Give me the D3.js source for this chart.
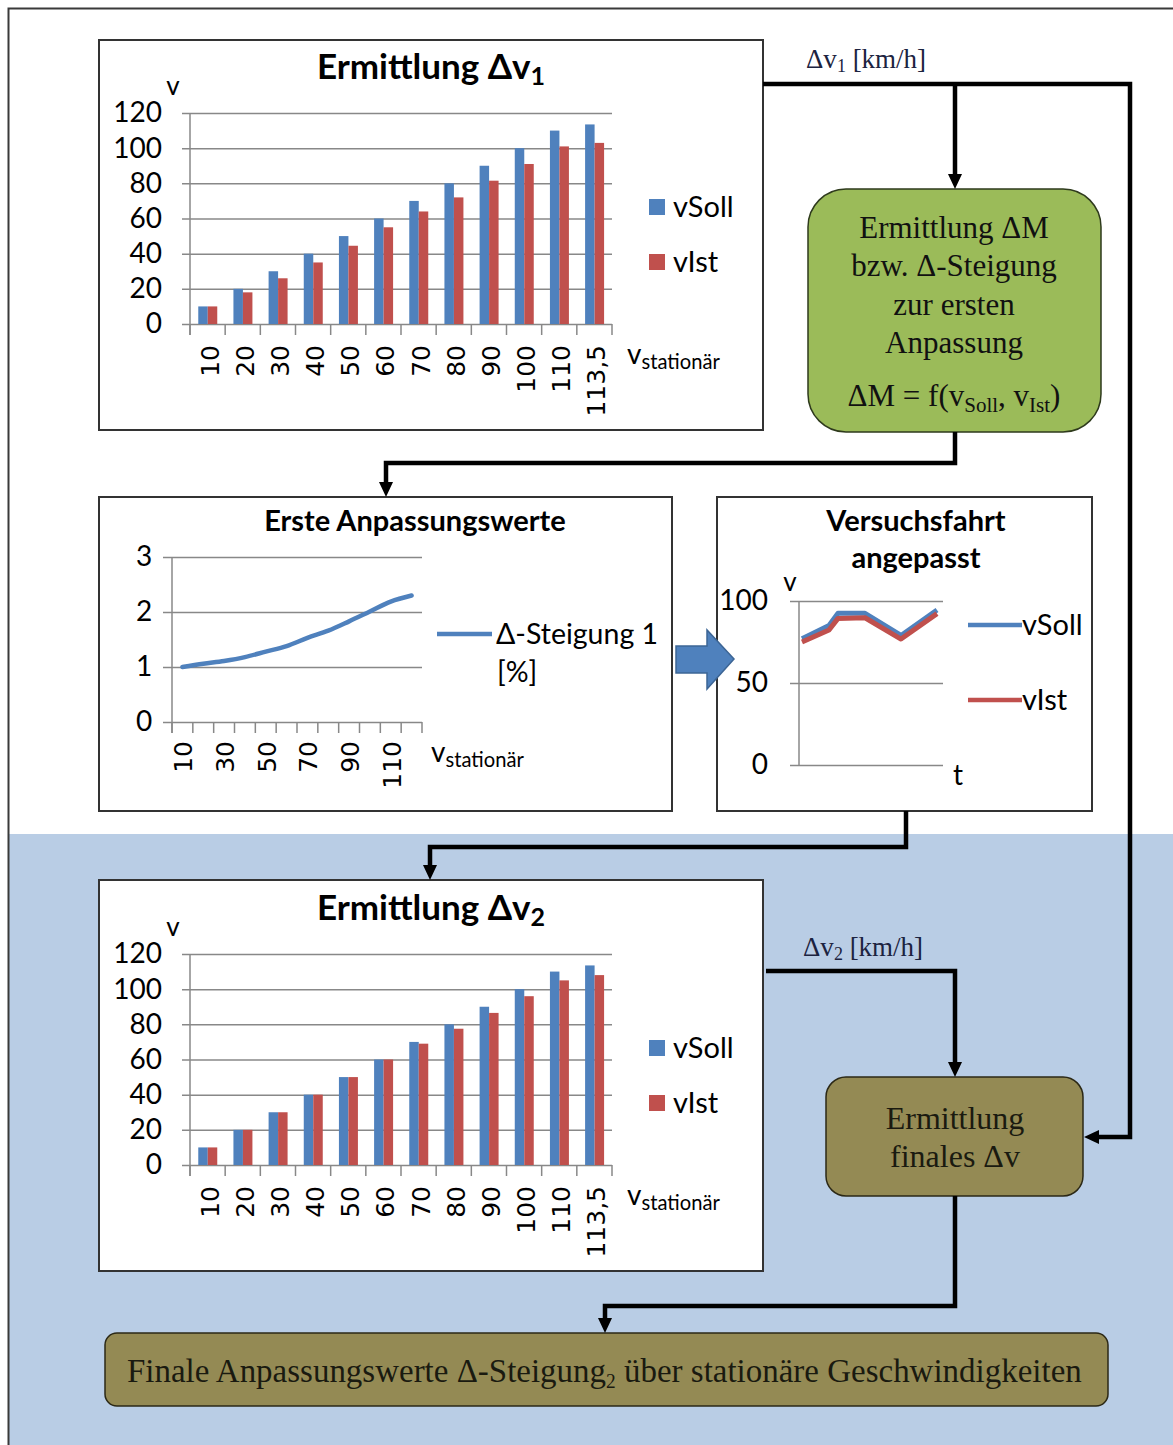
<!DOCTYPE html>
<html><head><meta charset="utf-8">
<script src="https://cdn.jsdelivr.net/npm/d3@7"></script>
<style>body{margin:0;background:#fff}svg{display:block}</style>
</head><body>
<script>
// Stationary speed steps (km/h)
const categories = ["10","20","30","40","50","60","70","80","90","100","110","113,5"];
// First determination: target vs. actual speed
const vSoll1 = [10,20,30,40,50,60,70,80,90,100,110,113.5];
const vIst1  = [10,18,26,35,44.5,55,64,72,81.5,91,101,103];
// Second determination after first adjustment
const vSoll2 = [10,20,30,40,50,60,70,80,90,100,110,113.5];
const vIst2  = [10,20,30,40,50,60,69,77.5,86.5,96,105,108];
const barTicks = [0,20,40,60,80,100,120];
const seriesNames = ["vSoll","vIst"];
// First adjustment values (Δ-Steigung 1 in %)
const steigung1 = [1.0,1.06,1.11,1.18,1.28,1.38,1.53,1.66,1.83,2.01,2.19,2.3];
const steigungTicks = [0,1,2,3];
const steigungTickLabels = ["10","30","50","70","90","110"];
// Adjusted test drive
const runTime = [1,10,13,22,34,46];
const runSoll = [77,85,92.5,92.5,79,94.5];
const runIst  = [75,82.3,89.4,89.8,76.8,92.3];
const runTicks = [0,50,100];

const BLUE = "#4f81bd", RED = "#c0504d", GRID = "#888888";
const SANS = "Lato, 'Open Sans', sans-serif";
const SERIF = "'Liberation Serif', 'DejaVu Serif', serif";
const NUM = "'DejaVu Sans', sans-serif";

const svg = d3.select("body").append("svg").attr("width",1173).attr("height",1445);

// lower shaded area and outer frame
svg.append("rect").attr("x",9).attr("y",834).attr("width",1164).attr("height",611).attr("fill","#b9cde5");
svg.append("path").attr("d","M8.5,1445 V8.5 H1173").attr("fill","none").attr("stroke","#3a3a3a").attr("stroke-width",2);

function box(x,y,w,h){
  svg.append("rect").attr("x",x).attr("y",y).attr("width",w).attr("height",h)
    .attr("fill","#fff").attr("stroke","#333").attr("stroke-width",2);
}

// text with an optional subscript part
function subText(g, x, y, parts, opts){
  const t = g.append("text").attr("x",x).attr("y",y)
    .attr("font-family",opts.family).attr("font-size",opts.size)
    .attr("font-weight",opts.weight||"normal").attr("fill",opts.fill||"#000")
    .attr("text-anchor",opts.anchor||"start");
  parts.forEach(p=>{
    if(typeof p === "string"){ t.append("tspan").text(p); }
    else {
      t.append("tspan").attr("dy",p.dy).attr("font-size",p.size).attr("font-family",p.family||null).text(p.sub);
      if(p.back) t.append("tspan").attr("dy",-p.dy).text(p.back);
    }
  });
  return t;
}

function vStationaer(g,x,y,size){
  subText(g,x,y,["v",{sub:"stationär",dy:5,size:size*0.72}],{family:SANS,size:size});
}

function barChart(dy, subNum, soll, ist){
  const g = svg.append("g").attr("transform",`translate(0,${dy})`);
  const x = d3.scaleBand().domain(categories).range([190,612]);
  const y = d3.scaleLinear().domain([0,120]).range([324,113]);
  const bw = x.bandwidth();
  const x1 = d3.scaleBand().domain(seriesNames).range([bw*0.235,bw*0.775]);

  subText(g,431,79,["Ermittlung Δv",{sub:subNum,dy:6,size:25}],{family:SANS,size:35,weight:"bold",anchor:"middle"});
  g.append("text").attr("x",173).attr("y",95).attr("font-family",SANS).attr("font-size",26).attr("text-anchor","middle").text("v");

  // grid + y ticks
  const yAxis = g.append("g").attr("transform","translate(190,0)")
    .call(d3.axisLeft(y).tickValues(barTicks).tickSize(-422).tickPadding(28).tickFormat(d3.format("d")));
  yAxis.select(".domain").remove();
  yAxis.selectAll(".tick line").attr("x1",-8).attr("stroke",GRID).attr("stroke-width",1.5);
  yAxis.selectAll(".tick text").attr("font-family",SANS).attr("font-size",28).attr("fill","#000");
  g.append("line").attr("x1",190).attr("x2",190).attr("y1",113).attr("y2",335).attr("stroke",GRID).attr("stroke-width",1.5);
  // category separators
  const seps = categories.map(c=>x(c)).concat([612]);
  g.selectAll(".sep").data(seps).join("line").attr("x1",d=>d).attr("x2",d=>d)
    .attr("y1",324).attr("y2",335).attr("stroke",GRID).attr("stroke-width",1.5);

  const rows = categories.map((c,i)=>({c, vSoll:soll[i], vIst:ist[i]}));
  const grp = g.selectAll(".cat").data(rows).join("g").attr("transform",d=>`translate(${x(d.c)},0)`);
  grp.selectAll("rect").data(d=>seriesNames.map(k=>({k,v:d[k]}))).join("rect")
    .attr("x",d=>x1(d.k)).attr("width",x1.bandwidth())
    .attr("y",d=>y(d.v)).attr("height",d=>y(0)-y(d.v))
    .attr("fill",d=>d.k==="vSoll"?BLUE:RED);

  g.selectAll(".xl").data(categories).join("text")
    .attr("transform",c=>`translate(${x(c)+bw/2+2},345) rotate(-90)`)
    .attr("text-anchor","end").attr("dy","0.36em")
    .attr("font-family",NUM).attr("font-size",25).text(c=>c);

  vStationaer(g,627,364,28);

  // legend
  seriesNames.forEach((k,i)=>{
    const ly = 207 + i*55;
    g.append("rect").attr("x",649).attr("y",ly-8).attr("width",16).attr("height",16).attr("fill",k==="vSoll"?BLUE:RED);
    g.append("text").attr("x",673).attr("y",ly+10).attr("font-family",SANS).attr("font-size",29).text(k);
  });
}

// ---- boxes
box(99,40,664,390);
box(99,497,573,314);
box(717,497,375,314);
box(99,880,664,391);

barChart(0,"1",vSoll1,vIst1);
barChart(841,"2",vSoll2,vIst2);

// ---- first adjustment values (line chart)
(function(){
  const g = svg.append("g");
  const cats = categories;
  const x = d3.scaleBand().domain(cats).range([172,422]);
  const y = d3.scaleLinear().domain([0,3]).range([722,557]);
  g.append("text").attr("x",415).attr("y",531).attr("text-anchor","middle")
    .attr("font-family",SANS).attr("font-weight","bold").attr("font-size",29).text("Erste Anpassungswerte");
  const yAxis = g.append("g").attr("transform","translate(172,0)")
    .call(d3.axisLeft(y).tickValues(steigungTicks).tickSize(-250).tickPadding(28).tickFormat(d3.format("d")));
  yAxis.select(".domain").remove();
  yAxis.selectAll(".tick line").attr("x1",-9).attr("stroke",GRID).attr("stroke-width",1.5);
  yAxis.selectAll(".tick text").attr("font-family",SANS).attr("font-size",28).attr("fill","#000").attr("text-anchor","middle");
  g.append("line").attr("x1",172).attr("x2",172).attr("y1",557).attr("y2",733).attr("stroke",GRID).attr("stroke-width",1.5);
  const seps = cats.map(c=>x(c)).concat([422]);
  g.selectAll(".sep").data(seps).join("line").attr("x1",d=>d).attr("x2",d=>d)
    .attr("y1",722).attr("y2",733).attr("stroke",GRID).attr("stroke-width",1.5);
  const line = d3.line().x((d,i)=>x(cats[i])+x.bandwidth()/2).y(d=>y(d)).curve(d3.curveMonotoneX);
  g.append("path").datum(steigung1).attr("d",line).attr("fill","none").attr("stroke",BLUE).attr("stroke-width",4.5).attr("stroke-linecap","round");
  g.selectAll(".xl").data(steigungTickLabels).join("text")
    .attr("transform",c=>`translate(${x(c)+x.bandwidth()/2+1},741) rotate(-90)`)
    .attr("text-anchor","end").attr("dy","0.36em")
    .attr("font-family",NUM).attr("font-size",25).text(c=>c);
  vStationaer(g,431,762,28);
  g.append("line").attr("x1",437).attr("x2",492).attr("y1",634).attr("y2",634).attr("stroke",BLUE).attr("stroke-width",4.5);
  g.append("text").attr("x",496).attr("y",644).attr("font-family",SANS).attr("font-size",28.5).text("Δ-Steigung 1");
  g.append("text").attr("x",497).attr("y",682).attr("font-family",SANS).attr("font-size",28.5).text("[%]");
})();

// ---- adjusted test drive
(function(){
  const g = svg.append("g");
  const x = d3.scaleLinear().domain([0,48]).range([799,943]);
  const y = d3.scaleLinear().domain([0,100]).range([765,601]);
  g.append("text").attr("x",916).attr("y",531).attr("text-anchor","middle")
    .attr("font-family",SANS).attr("font-weight","bold").attr("font-size",29).text("Versuchsfahrt");
  g.append("text").attr("x",916).attr("y",568).attr("text-anchor","middle")
    .attr("font-family",SANS).attr("font-weight","bold").attr("font-size",29).text("angepasst");
  g.append("text").attr("x",790).attr("y",591).attr("text-anchor","middle").attr("font-family",SANS).attr("font-size",26).text("v");
  const yAxis = g.append("g").attr("transform","translate(799,0)")
    .call(d3.axisLeft(y).tickValues(runTicks).tickSize(-144).tickPadding(31).tickFormat(d3.format("d")));
  yAxis.select(".domain").remove();
  yAxis.selectAll(".tick line").attr("x1",-9).attr("stroke",GRID).attr("stroke-width",1.5);
  yAxis.selectAll(".tick text").attr("font-family",SANS).attr("font-size",28).attr("fill","#000");
  g.append("line").attr("x1",799).attr("x2",799).attr("y1",601).attr("y2",765).attr("stroke",GRID).attr("stroke-width",1.5);
  g.append("text").attr("x",958).attr("y",785).attr("text-anchor","middle").attr("font-family",SANS).attr("font-size",28).text("t");
  const line = d3.line().x((d,i)=>x(runTime[i])).y(d=>y(d));
  g.append("path").datum(runSoll).attr("d",line).attr("fill","none").attr("stroke",BLUE).attr("stroke-width",5).attr("stroke-linejoin","round");
  g.append("path").datum(runIst).attr("d",line).attr("fill","none").attr("stroke",RED).attr("stroke-width",5).attr("stroke-linejoin","round");
  [["vSoll",BLUE,625],["vIst",RED,700]].forEach(([n,c,ly])=>{
    g.append("line").attr("x1",968).attr("x2",1022).attr("y1",ly).attr("y2",ly).attr("stroke",c).attr("stroke-width",4.5);
    g.append("text").attr("x",1022).attr("y",ly+10).attr("font-family",SANS).attr("font-size",29).text(n);
  });
})();

// ---- block arrow between the middle charts
svg.append("path").attr("d","M676,646 H707 V630 L734,659 L707,689 V673 H676 Z")
  .attr("fill",BLUE).attr("stroke","#3c6595").attr("stroke-width",1.5);

// ---- process boxes
svg.append("rect").attr("x",808).attr("y",189).attr("width",293).attr("height",243).attr("rx",38)
  .attr("fill","#9bbb59").attr("stroke","#2e3a1c").attr("stroke-width",1.5);
[["Ermittlung ΔM",238],["bzw. Δ-Steigung",276],["zur ersten",315],["Anpassung",353]].forEach(([t,yy])=>{
  svg.append("text").attr("x",954).attr("y",yy).attr("text-anchor","middle")
    .attr("font-family",SERIF).attr("font-size",31).attr("fill","#111").text(t);
});
subText(svg,954,406,["ΔM = f(v",{sub:"Soll",dy:6,size:21,back:", v"},{sub:"Ist",dy:6,size:21,back:")"}],
  {family:SERIF,size:31,anchor:"middle",fill:"#111"});

svg.append("rect").attr("x",826).attr("y",1077).attr("width",257).attr("height",119).attr("rx",20)
  .attr("fill","#948a54").attr("stroke","#2b2816").attr("stroke-width",1.5);
svg.append("text").attr("x",955).attr("y",1129).attr("text-anchor","middle").attr("font-family",SERIF).attr("font-size",32).attr("fill","#1a1a10").text("Ermittlung");
svg.append("text").attr("x",955).attr("y",1167).attr("text-anchor","middle").attr("font-family",SERIF).attr("font-size",32).attr("fill","#1a1a10").text("finales Δv");

svg.append("rect").attr("x",105).attr("y",1333).attr("width",1003).attr("height",73).attr("rx",12)
  .attr("fill","#948a54").attr("stroke","#2b2816").attr("stroke-width",1.5);
// condensed one-line caption: laid out naturally, then squeezed horizontally to the box width
const capG = svg.append("g");
const cap = subText(capG,0,0,["Finale Anpassungswerte Δ-Steigung",{sub:"2",dy:6,size:20,back:" über stationäre Geschwindigkeiten"}],
  {family:SERIF,size:34,fill:"#1a1a10"});
const capW = cap.node().getComputedTextLength();
capG.attr("transform",`translate(127,1382) scale(${955/capW},1)`);

// ---- flow connectors
const flows = [
  {d:"M763,84 H1130 V1137 H1098", tip:[1084,1137], dir:"left"},
  {d:"M955,84 V176", tip:[955,189], dir:"down"},
  {d:"M955,432 V463 H386 V484", tip:[386,497], dir:"down"},
  {d:"M906,811 V847 H430 V867", tip:[430,880], dir:"down"},
  {d:"M766,971 H955 V1064", tip:[955,1077], dir:"down"},
  {d:"M955,1196 V1306 H605 V1320", tip:[605,1333], dir:"down"}
];
flows.forEach(f=>{
  svg.append("path").attr("d",f.d).attr("fill","none").attr("stroke","#000").attr("stroke-width",4.5).attr("stroke-linejoin","miter");
  const [tx,ty] = f.tip;
  const pts = f.dir==="down" ? [[tx-7,ty-15],[tx+7,ty-15],[tx,ty]] : [[tx+15,ty-7],[tx+15,ty+7],[tx,ty]];
  svg.append("polygon").attr("points",pts.map(p=>p.join(",")).join(" ")).attr("fill","#000");
});

// flow labels
subText(svg,806,68,["Δv",{sub:"1",dy:4,size:18,back:" [km/h]"}],{family:SERIF,size:27,fill:"#1c2340"});
subText(svg,803,956,["Δv",{sub:"2",dy:4,size:18,back:" [km/h]"}],{family:SERIF,size:27,fill:"#1c2340"});
</script>
</body></html>
